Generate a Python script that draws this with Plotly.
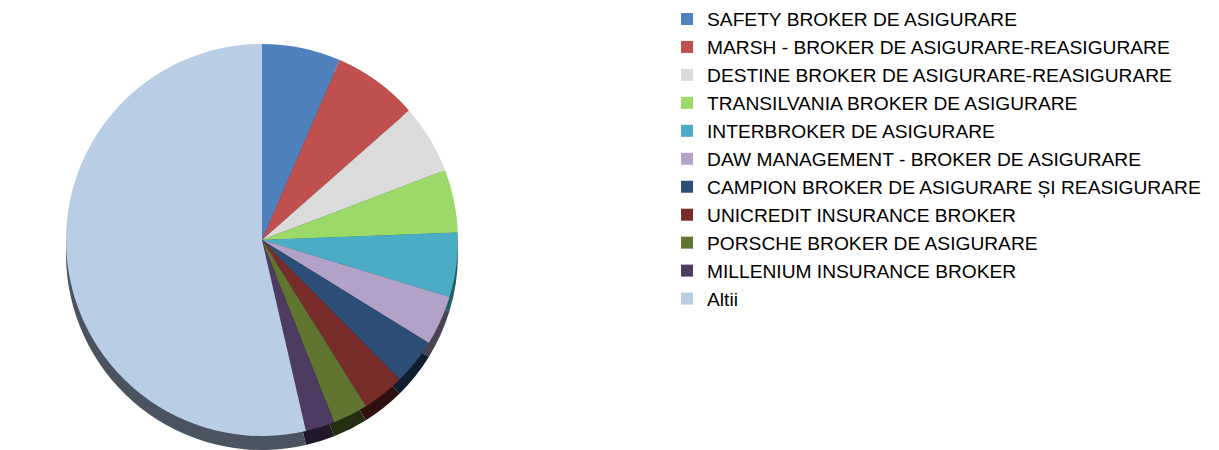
import plotly.graph_objects as go

labels = [
    "SAFETY BROKER DE ASIGURARE",
    "MARSH - BROKER DE ASIGURARE-REASIGURARE",
    "DESTINE BROKER DE ASIGURARE-REASIGURARE",
    "TRANSILVANIA BROKER DE ASIGURARE",
    "INTERBROKER DE ASIGURARE",
    "DAW MANAGEMENT - BROKER DE ASIGURARE",
    "CAMPION BROKER DE ASIGURARE ȘI REASIGURARE",
    "UNICREDIT INSURANCE BROKER",
    "PORSCHE BROKER DE ASIGURARE",
    "MILLENIUM INSURANCE BROKER",
    "Altii",
]
values = [6.5, 7.0, 5.7, 5.2, 5.3, 4.1, 3.8, 3.5, 2.9, 2.4, 53.6]

colors = ["#4F81BD", "#C0504D", "#DBDBDB", "#9BDA68", "#4BACC6", "#B3A2C7",
          "#2C4D75", "#772C2A", "#5F7530", "#4D3B62", "#B9CDE5"]
side_colors = ["#2A4566", "#6A2B29", "#707070", "#50703A", "#285C6A", "#4A4452",
               "#0F1F30", "#30100F", "#232E12", "#20182A", "#4A5360"]

W, H = 1219, 450

def dom(cx, cy, d):
    return dict(x=[(cx - d / 2) / W, (cx + d / 2) / W],
                y=[(H - (cy + d / 2)) / H, (H - (cy - d / 2)) / H])

fig = go.Figure()
# side wall (shifted copy, darker)
fig.add_trace(go.Pie(
    labels=labels, values=values, sort=False, direction="clockwise", rotation=0,
    marker=dict(colors=side_colors, line=dict(width=0)),
    textinfo="none", hoverinfo="skip", showlegend=False,
    domain=dom(262, 254, 392),
))
fig.add_trace(go.Pie(
    labels=labels, values=values, sort=False, direction="clockwise", rotation=0,
    marker=dict(colors=colors, line=dict(width=0)),
    textinfo="none", showlegend=True,
    domain=dom(262, 240, 392),
))

fig.update_layout(
    width=W, height=H,
    margin=dict(l=0, r=0, t=0, b=0),
    paper_bgcolor="white", plot_bgcolor="white",
    font=dict(family="Liberation Sans, Arial, sans-serif", size=19, color="#000000"),
    legend=dict(x=0.5472, y=1.0, xanchor="left", yanchor="top",
                font=dict(size=19.2, color="#000000"),
                bgcolor="rgba(0,0,0,0)", traceorder="normal"),
)

fig.write_html("out.html")
